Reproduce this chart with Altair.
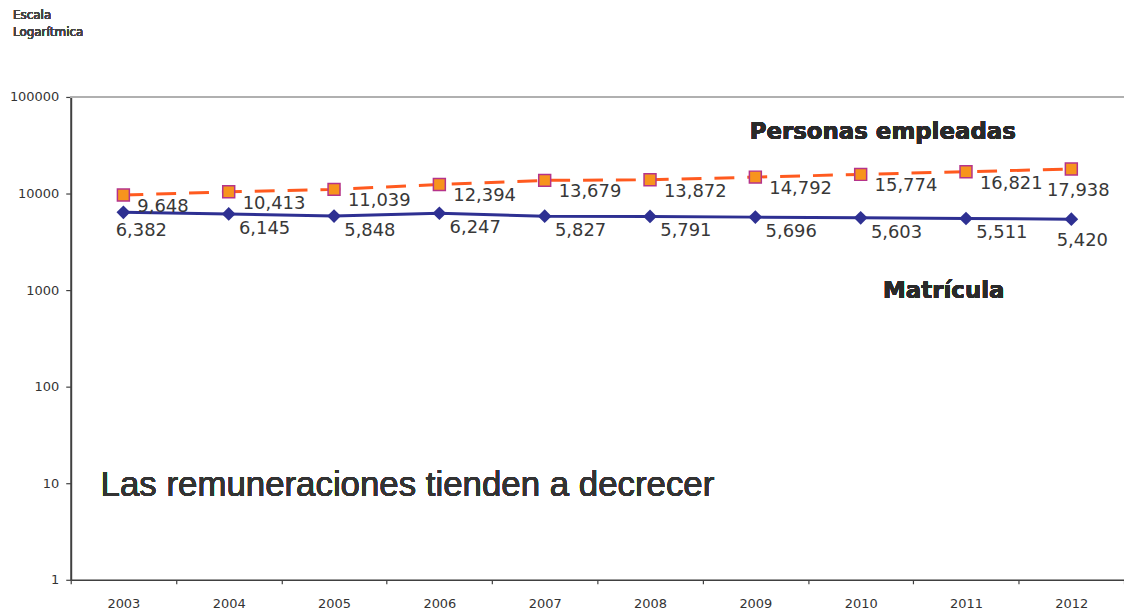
import altair as alt
import pandas as pd

years = ["2003", "2004", "2005", "2006", "2007", "2008", "2009", "2010", "2011", "2012"]
personas = [9648, 10413, 11039, 12394, 13679, 13872, 14792, 15774, 16821, 17938]
matricula = [6382, 6145, 5848, 6247, 5827, 5791, 5696, 5603, 5511, 5420]
y_ticks = [1, 10, 100, 1000, 10000, 100000]

dfp = pd.DataFrame({"year": years, "value": personas})
dfm = pd.DataFrame({"year": years, "value": matricula})

TXT = "#383838"
AX = "#404040"

x = alt.X(
    "year:O",
    bandPosition=0.5,
    scale=alt.Scale(type="band", domain=years, paddingInner=0, paddingOuter=0),
    axis=alt.Axis(
        title=None, labelAngle=0, tickBand="extent", tickSize=4, labelPadding=14,
        labelFont="DejaVu Sans", labelFontSize=13, labelColor="#333333",
        domainColor=AX, domainWidth=1.5, tickColor=AX, tickWidth=1.2, grid=False,
    ),
)
y = alt.Y(
    "value:Q",
    scale=alt.Scale(type="log", domain=[1, 100000], nice=False),
    axis=alt.Axis(
        title=None, values=y_ticks, format="d", grid=False, tickSize=5, labelPadding=7,
        labelFont="DejaVu Sans", labelFontSize=13, labelColor="#333333",
        domainColor=AX, domainWidth=2, tickColor=AX, tickWidth=1.2,
    ),
)

top_rule = alt.Chart(dfp).mark_rule(color="#B0B0B0", strokeWidth=1.5).encode(
    y=alt.datum(100000)
)

line_p = alt.Chart(dfp).mark_line(color="#FF5A1F", strokeWidth=3, strokeDash=[20, 13]).encode(x=x, y=y)
line_m = alt.Chart(dfm).mark_line(color="#2E3092", strokeWidth=3).encode(x=x, y=y)

pts_p = alt.Chart(dfp).mark_point(
    shape="square", filled=True, fill="#F7941D", stroke="#B5338A", strokeWidth=1.5,
    size=144, opacity=1,
).encode(x=x, y=y)
pts_m = alt.Chart(dfm).mark_point(
    shape="diamond", filled=True, color="#2E3092", size=190, opacity=1
).encode(x=x, y=y)

lab_font = dict(font="DejaVu Sans", fontSize=18, color=TXT, baseline="middle")
fmt = alt.Text("value:Q", format=",d")

last = alt.FieldOneOfPredicate(field="year", oneOf=["2012"])
first = alt.FieldOneOfPredicate(field="year", oneOf=["2003"])
mid = alt.FieldOneOfPredicate(field="year", oneOf=years[1:-1])
notlast = alt.FieldOneOfPredicate(field="year", oneOf=years[:-1])

lab_p = alt.Chart(dfp).transform_filter(notlast).mark_text(
    align="left", dx=14, dy=12, **lab_font
).encode(x=x, y=y, text=fmt)
lab_p_last = alt.Chart(dfp).transform_filter(last).mark_text(
    align="center", dx=7, dy=22, **lab_font
).encode(x=x, y=y, text=fmt)

lab_m = alt.Chart(dfm).transform_filter(mid).mark_text(
    align="center", dx=36, dy=15, **lab_font
).encode(x=x, y=y, text=fmt)
lab_m_first = alt.Chart(dfm).transform_filter(first).mark_text(
    align="center", dx=18, dy=19, **lab_font
).encode(x=x, y=y, text=fmt)
lab_m_last = alt.Chart(dfm).transform_filter(last).mark_text(
    align="center", dx=11, dy=22, **lab_font
).encode(x=x, y=y, text=fmt)

bold = dict(font="DejaVu Sans", fontSize=23, fontWeight="bold", color="#2a2a2a",
            align="left", baseline="alphabetic")
name_p = alt.Chart(dfp).mark_text(text="Personas empleadas", **bold).encode(
    x=alt.value(682), y=alt.value(42)
)
name_m = alt.Chart(dfp).mark_text(text="Matrícula", **bold).encode(
    x=alt.value(816), y=alt.value(202)
)
note = alt.Chart(dfp).mark_text(
    text="Las remuneraciones tienden a decrecer", font="Liberation Sans", fontSize=35,
    color="#333333", align="left", baseline="alphabetic",
).encode(x=alt.value(30), y=alt.value(401))
scale_note = alt.Chart(dfp).mark_text(
    text=["Escala", "Logarítmica"], font="DejaVu Sans", fontSize=12, color="#444444",
    align="left", baseline="alphabetic", lineHeight=17,
).encode(x=alt.value(-58), y=alt.value(-78))

chart = alt.layer(
    top_rule, line_p, line_m, pts_p, pts_m,
    lab_p, lab_p_last, lab_m, lab_m_first, lab_m_last,
    name_p, name_m, note, scale_note,
).properties(
    width=1058, height=485,
    autosize=alt.AutoSizeParams(type="none"),
    padding={"left": 63, "top": 88, "right": 0, "bottom": 30},
).configure_view(stroke=None).configure(background="white")

chart.save("out.html", embed_options={"renderer": "svg", "actions": False})
